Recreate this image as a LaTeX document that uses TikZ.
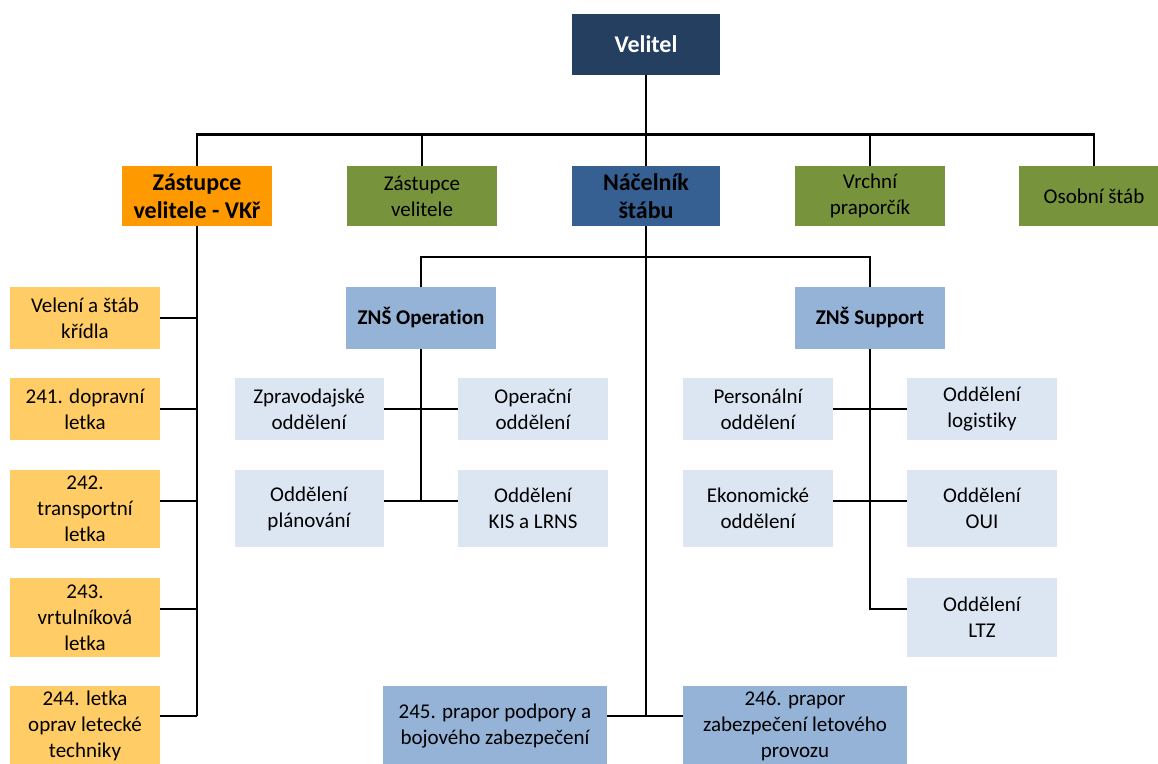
\documentclass[tikz,border=0pt]{standalone}
\usepackage{fontspec}
\setmainfont{Carlito}[Ligatures={NoCommon}]
\definecolor{navy}{HTML}{243F60}
\definecolor{nacblue}{HTML}{376092}
\definecolor{orng}{HTML}{FF9900}
\definecolor{grn}{HTML}{77933C}
\definecolor{lorng}{HTML}{FFCC66}
\definecolor{midblue}{HTML}{95B3D7}
\definecolor{lblue}{HTML}{DCE6F2}
\tikzset{
  box/.style={rectangle, inner sep=0pt, align=center, minimum width=150pt, font=\fontsize{21}{26}\selectfont},
  bigbold/.style={font=\fontsize{24}{28}\selectfont\bfseries},
  smallbold/.style={font=\fontsize{21}{26}\selectfont\bfseries},
  conn/.style={line width=2.3pt, black}
}
\begin{document}
\begin{tikzpicture}[x=1pt,y=-1pt]
\clip (0,0) rectangle (1158,763);
\fill[white] (0,0) rectangle (1158,763);
% top level
\node[box,bigbold,fill=navy,text=white,minimum width=148pt,minimum height=61pt] (vel) at (646,44.5) {Velitel};
\node[box,bigbold,fill=orng,minimum height=60pt] (zvk) at (197,196) {Zástupce\\velitele - VKř};
\node[box,fill=grn,minimum height=60pt] (zv) at (422,196) {Zástupce\\velitele};
\node[box,bigbold,fill=nacblue,minimum width=148pt,minimum height=60pt] (nac) at (646,196) {Náčelník\\štábu};
\node[box,fill=grn,minimum height=60pt] (vp) at (870,196) {Vrchní\\praporčík};
\node[box,fill=grn,minimum height=60pt] (os) at (1094,196) {Osobní štáb};
% left stack
\node[box,fill=lorng,minimum height=62pt] (vs) at (85,318) {Velení a štáb\\křídla};
\node[box,fill=lorng,minimum height=62pt] (l241) at (85,409) {241. dopravní\\letka};
\node[box,fill=lorng,minimum height=78pt] (l242) at (85,509) {242.\\transportní\\letka};
\node[box,fill=lorng,minimum height=79pt] (l243) at (85,617.5) {243.\\vrtulníková\\letka};
\node[box,fill=lorng,minimum height=80pt] (l244) at (85,726) {244. letka\\oprav letecké\\techniky};
% ZNS
\node[box,smallbold,fill=midblue,minimum height=62pt] (znso) at (421,318) {ZNŠ Operation};
\node[box,smallbold,fill=midblue,minimum height=62pt] (znss) at (870,318) {ZNŠ Support};
% operation departments
\node[box,fill=lblue,minimum width=149pt,minimum height=62pt] (zpr) at (309,409) {Zpravodajské\\oddělení};
\node[box,fill=lblue,minimum height=62pt] (opr) at (533,409) {Operační\\oddělení};
\node[box,fill=lblue,minimum width=149pt,minimum height=77pt] (pla) at (309,508.5) {Oddělení\\plánování};
\node[box,fill=lblue,minimum height=77pt] (kis) at (533,508.5) {Oddělení\\KIS a LRNS};
% support departments
\node[box,fill=lblue,minimum height=62pt] (per) at (758,409) {Personální\\oddělení};
\node[box,fill=lblue,minimum height=62pt] (log) at (982,409) {Oddělení\\logistiky};
\node[box,fill=lblue,minimum height=77pt] (eko) at (758,508.5) {Ekonomické\\oddělení};
\node[box,fill=lblue,minimum height=77pt] (oui) at (982,508.5) {Oddělení\\OUI};
\node[box,fill=lblue,minimum height=79pt] (ltz) at (982,617.5) {Oddělení\\LTZ};
% battalions
\node[box,fill=midblue,minimum width=224pt,minimum height=80pt] (p245) at (495,726) {245. prapor podpory a\\bojového zabezpečení};
\node[box,fill=midblue,minimum width=224pt,minimum height=80pt] (p246) at (795,726) {246. prapor\\zabezpečení letového\\provozu};
% junction coordinates
\coordinate (topbus) at (0,134.5);
\coordinate (midbus) at (0,257);
\coordinate (ya) at (0,318);
\coordinate (yb) at (0,409);
\coordinate (yc) at (0,501);
\coordinate (yd) at (0,609);
\coordinate (ye) at (0,716);
% connectors top
\draw[conn] (vel.south) -- (vel.south |- topbus);
\draw[conn] (zvk.north) |- (os.north |- topbus) -- (os.north);
\draw[conn] (zv.north) -- (zv.north |- topbus);
\draw[conn] (nac.north) -- (nac.north |- topbus);
\draw[conn] (vp.north) -- (vp.north |- topbus);
% left stack
\draw[conn] (zvk.south) -- (zvk.south |- ye);
\draw[conn] (vs.east |- ya) -- (zvk.south |- ya);
\draw[conn] (l241.east |- yb) -- (zvk.south |- yb);
\draw[conn] (l242.east |- yc) -- (zvk.south |- yc);
\draw[conn] (l243.east |- yd) -- (zvk.south |- yd);
\draw[conn] (l244.east |- ye) -- (zvk.south |- ye);
% nacelnik
\draw[conn] (nac.south) -- (nac.south |- ye);
\draw[conn] (znso.north) |- (znss.north |- midbus) -- (znss.north);
\draw[conn] (p245.east |- ye) -- (p246.west |- ye);
% operation
\draw[conn] (znso.south) -- (znso.south |- yc);
\draw[conn] (zpr.east |- yb) -- (opr.west |- yb);
\draw[conn] (pla.east |- yc) -- (kis.west |- yc);
% support
\draw[conn] (znss.south) |- (ltz.west |- yd);
\draw[conn] (per.east |- yb) -- (log.west |- yb);
\draw[conn] (eko.east |- yc) -- (oui.west |- yc);
\end{tikzpicture}
\end{document}
